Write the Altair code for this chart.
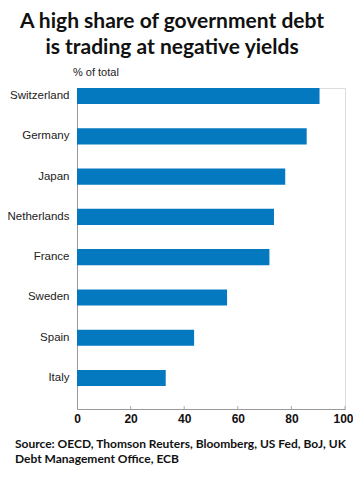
import altair as alt
import pandas as pd

countries = ["Switzerland", "Germany", "Japan", "Netherlands", "France", "Sweden", "Spain", "Italy"]
shares = [90.5, 85.7, 77.7, 73.5, 71.8, 56.0, 43.7, 33.1]
tick_values = [0, 20, 40, 60, 80, 100]
title_lines = ["A high share of government debt", "is trading at negative yields"]
unit_label = "% of total"
source_lines = ["Source: OECD, Thomson Reuters, Bloomberg, US Fed, BoJ, UK",
                "Debt Management Office, ECB"]

W, H = 268, 321
df = pd.DataFrame({"country": countries, "share": shares})

bars = alt.Chart(df).mark_bar(color="#0579c0").encode(
    x=alt.X("share:Q", scale=alt.Scale(domain=[0, 100], nice=False),
            axis=alt.Axis(values=tick_values, title=None, grid=False, ticks=False,
                          domainColor="#999999", labelFont="Liberation Sans",
                          labelFontWeight="bold", labelFontSize=12, labelColor="#111111",
                          labelPadding=4, labelFlush=False,
                          labelOffset={"condition": {"test": "datum.value == 100", "value": -2},
                                       "value": 0})),
    y=alt.Y("country:N", sort=countries,
            scale=alt.Scale(paddingInner=0.6, paddingOuter=0.285, align=0),
            axis=alt.Axis(title=None, ticks=False, domainColor="#999999",
                          labelFont="Liberation Sans", labelFontSize=11.5,
                          labelColor="#222222", labelPadding=8)),
)

tdf = pd.DataFrame({"t": tick_values[1:]})
ticks = alt.Chart(tdf).mark_rule(color="#aaaaaa").encode(
    x=alt.X("t:Q"), y=alt.value(H - 3), y2=alt.value(H)
)


def text_line(s, x, y, **kw):
    return alt.Chart(pd.DataFrame({"t": [s]})).mark_text(baseline="middle", **kw).encode(
        text="t:N", x=alt.value(x), y=alt.value(y)
    )


title_kw = dict(font="Lato", fontWeight="bold", fontSize=21, color="#111111", align="center")
src_kw = dict(font="Lato", fontWeight="bold", fontSize=12, color="#111111", align="left")

layers = [bars, ticks,
          text_line(title_lines[0], 95, -66, **title_kw),
          text_line(title_lines[1], 95, -40, **title_kw),
          text_line(unit_label, -4, -15, font="Liberation Sans", fontSize=11,
                    color="#222222", align="left"),
          text_line(source_lines[0], -62, H + 35, **src_kw),
          text_line(source_lines[1], -62, H + 50, **src_kw)]

chart = alt.layer(*layers).properties(
    width=W, height=H,
    autosize=alt.AutoSizeParams(type="none"),
    padding={"left": 69, "top": 80, "right": 8, "bottom": 60},
).configure_view(stroke=None).configure(background="white")

chart.save("out.html", embed_options={"renderer": "svg", "actions": False})
